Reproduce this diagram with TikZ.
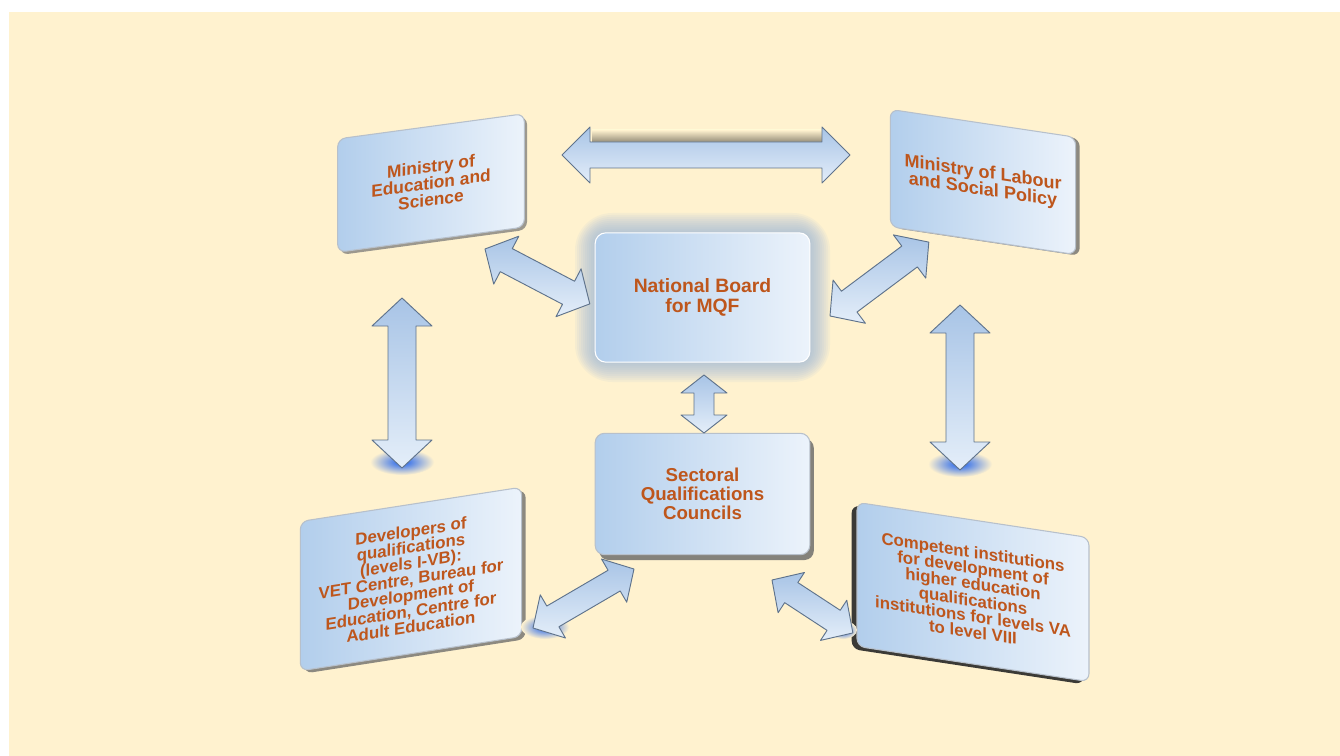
\documentclass[tikz,border=0pt]{standalone}
\usepackage{fontspec}
\setmainfont{Liberation Sans}
\usetikzlibrary{calc,shadows}
\definecolor{bg}{RGB}{255,242,207}
\definecolor{txt}{RGB}{190,86,28}
\definecolor{boxA}{RGB}{178,206,236}
\definecolor{boxB}{RGB}{236,243,251}
\definecolor{arrA}{RGB}{168,196,230}
\definecolor{arrB}{RGB}{228,238,249}
\definecolor{edgec}{RGB}{95,115,140}
\definecolor{glowblue}{RGB}{25,95,240}
\definecolor{halo}{RGB}{150,180,222}

\newcommand\blockarrow[6][]{%
  \path (#2); \pgfgetlastxy{\bax}{\bay}%
  \path (#3); \pgfgetlastxy{\bbx}{\bby}%
  \pgfmathsetmacro\bang{atan2(\bby-\bay,\bbx-\bax)}%
  \pgfmathsetmacro\blen{veclen(\bbx-\bax,\bby-\bay)}%
  \pgfmathsetmacro\bsw{0.75*#4}%
  \pgfmathsetmacro\bhw{0.75*#5}%
  \pgfmathsetmacro\bhl{0.75*#6}%
  \pgfmathsetmacro\bend{\blen-\bhl}%
  \begin{scope}[shift={(#2)}, rotate=\bang]
    \path[arrowstyle,#1] (0pt,0pt) -- (\bhl pt,\bhw pt) -- (\bhl pt,\bsw pt)
      -- (\bend pt,\bsw pt) -- (\bend pt,\bhw pt) -- (\blen pt,0pt)
      -- (\bend pt,-\bhw pt) -- (\bend pt,-\bsw pt) -- (\bhl pt,-\bsw pt)
      -- (\bhl pt,-\bhw pt) -- cycle;
  \end{scope}}

\begin{document}
\begin{tikzpicture}[x=0.75pt,y=-0.75pt,
  box/.style={rounded corners=6pt, left color=boxA, right color=boxB,
    draw=white!55!edgec, line width=0.8pt, align=center, text=txt, inner sep=2pt},
  arrowstyle/.style={draw=edgec, line width=0.7pt, top color=arrA, bottom color=arrB, line join=round},
  glow/.style={inner color=glowblue, outer color=bg},
]
\useasboundingbox (0,0) rectangle (1340,756);
\fill[white] (0,0) rectangle (1340,756);
\fill[bg] (9,12) rectangle (1340,756);

% halo of the national board
\foreach \g in {20,18,...,2}{
  \fill[halo, opacity=0.09, rounded corners=8pt+\g] (595-\g,233-\g) rectangle (810+\g,362+\g);
}

% boxes
\node[box, drop shadow={shadow xshift=2pt, shadow yshift=-2pt, fill=black!55, opacity=0.7},
  yslant=0.135, minimum width=140pt, minimum height=85pt,
  font=\bfseries\fontsize{13}{12.5}\selectfont] (edu) at (431,183)
  {Ministry of\\Education and\\Science};
\node[box, drop shadow={shadow xshift=3pt, shadow yshift=-1pt, fill=black!60, opacity=0.75},
  yslant=-0.15, minimum width=139pt, minimum height=88pt,
  font=\bfseries\fontsize{13.5}{13}\selectfont] (lab) at (983,182)
  {Ministry of Labour\\and Social Policy};
\node[box, draw=white, minimum width=161pt, minimum height=97pt, rounded corners=8pt,
  font=\bfseries\fontsize{14.5}{15}\selectfont] (nb) at (702.5,297.5)
  {National Board\\for MQF};
\node[box, drop shadow={shadow xshift=3pt, shadow yshift=-4pt, fill=black!60, opacity=0.8},
  minimum width=161pt, minimum height=91pt, rounded corners=7pt,
  font=\bfseries\fontsize{14}{14.3}\selectfont] (sqc) at (702.5,494)
  {Sectoral\\Qualifications\\Councils};
\node[box, drop shadow={shadow xshift=3pt, shadow yshift=-2pt, fill=black!60, opacity=0.75},
  yslant=0.155, minimum width=166pt, minimum height=112pt,
  font=\bfseries\fontsize{12.6}{12}\selectfont] (dev) at (411,579)
  {Developers of\\qualifications\\(levels I-VB):\\VET Centre, Bureau for\\Development of\\Education, Centre for\\Adult Education};
\node[box, drop shadow={shadow xshift=-4pt, shadow yshift=-2pt, fill=black!85, opacity=0.9},
  yslant=-0.152, minimum width=174pt, minimum height=108pt,
  font=\bfseries\fontsize{12.6}{11.8}\selectfont] (comp) at (973,592)
  {Competent institutions\\for development of\\higher education\\qualifications\\institutions for levels VA\\to level VIII};

% arrow end points
\coordinate (tA) at (562,155);  \coordinate (tB) at (850,155);
\coordinate (eA) at (485,249);  \coordinate (eB) at (590,304);
\coordinate (lA) at (830,316);  \coordinate (lB) at (929,242);
\coordinate (vlA) at (402,298); \coordinate (vlB) at (402,468);
\coordinate (vrA) at (960,305); \coordinate (vrB) at (960,470);
\coordinate (cA) at (704,375);  \coordinate (cB) at (704,433);
\coordinate (dA) at (533,628);  \coordinate (dB) at (634,569);
\coordinate (sA) at (772,580);  \coordinate (sB) at (853,633);

% glows under lower heads
\shade[glow] (402,462) ellipse (32 and 13);
\shade[glow] (960,464) ellipse (32 and 13);
\shade[glow] (545,627) ellipse (24 and 12);
\shade[glow] (843,630) ellipse (14 and 9);

% shadow above top arrow
\shade[top color=bg, bottom color=black!45!bg] (592,130) rectangle (822,143);

\blockarrow{tA}{tB}{13}{28}{28}
\blockarrow{eA}{eB}{13}{27}{24}
\blockarrow{lA}{lB}{13}{27}{24}
\blockarrow{vlA}{vlB}{14}{30}{28}
\blockarrow{vrA}{vrB}{14}{30}{28}
\blockarrow{cA}{cB}{10}{23}{18}
\blockarrow{dA}{dB}{12}{25}{23}
\blockarrow{sA}{sB}{12}{24}{23}
\end{tikzpicture}
\end{document}
